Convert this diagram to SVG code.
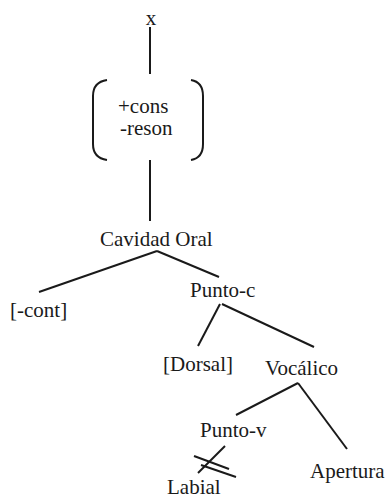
<svg xmlns="http://www.w3.org/2000/svg" width="386" height="498" viewBox="0 0 386 498" font-family="'Liberation Serif', 'DejaVu Serif', serif">
<style>
text{font-family:'Liberation Serif','DejaVu Serif',serif;font-size:21px;fill:#1a1a1a}
.l{stroke:#1a1a1a;stroke-width:2;fill:none;stroke-linecap:butt}
</style>
<rect width="386" height="498" fill="#fff"/>
<g id="connectors">
<line class="l" x1="150" y1="27" x2="150" y2="74"/>
<line class="l" x1="150" y1="160" x2="150" y2="221"/>
<line class="l" x1="157" y1="251" x2="39" y2="292"/>
<line class="l" x1="157" y1="251" x2="219" y2="277"/>
<line class="l" x1="220" y1="304" x2="198" y2="346"/>
<line class="l" x1="222" y1="304" x2="314" y2="347"/>
<line class="l" x1="298" y1="383" x2="236" y2="415"/>
<line class="l" x1="298" y1="383" x2="347" y2="449"/>
<line class="l" x1="225" y1="446" x2="198" y2="473"/>
<line class="l" x1="194" y1="456" x2="229" y2="469"/>
<line class="l" x1="201" y1="465" x2="236" y2="477"/>
</g>
<g id="node-x"><text x="151" y="25" text-anchor="middle">x</text></g>
<g id="node-matrix">
<path class="l" d="M107,80 Q93,82 93,96 L93,144 Q93,158 107,160"/>
<path class="l" d="M191,80 Q203,82 203,96 L203,144 Q203,158 191,160"/>
<text x="118" y="113">+cons</text>
<text x="120" y="135">-reson</text>
</g>
<g id="node-cavidad"><text x="100" y="246">Cavidad Oral</text></g>
<g id="node-cont"><text x="10" y="317">[-cont]</text></g>
<g id="node-puntoc"><text x="190" y="297">Punto-c</text></g>
<g id="node-dorsal"><text x="163" y="371">[Dorsal]</text></g>
<g id="node-vocalico"><text x="265" y="375">Vocálico</text></g>
<g id="node-puntov"><text x="200" y="437">Punto-v</text></g>
<g id="node-apertura"><text x="310" y="478">Apertura</text></g>
<g id="node-labial"><text x="167" y="494">Labial</text></g>
</svg>
